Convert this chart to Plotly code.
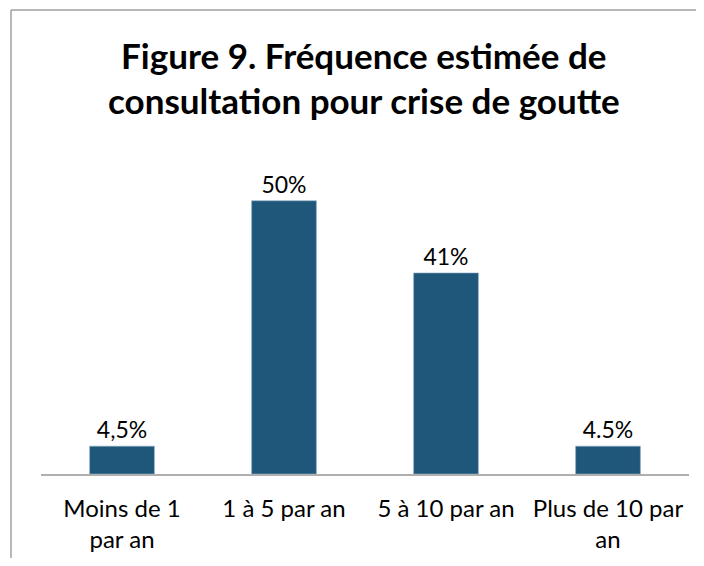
import plotly.graph_objects as go

categories = ["Moins de 1<br>par an", "1 à 5 par an", "5 à 10 par an", "Plus de 10 par<br>an"]
values = [5.1, 50, 36.8, 5.1]
labels = ["4,5%", "50%", "41%", "4.5%"]
title_lines = ["Figure 9. Fréquence estimée de", "consultation pour crise de goutte"]

bar_color = "#1F577B"
font_family = "Lato, 'Open Sans', sans-serif"

# page has an 8px body margin; figure coordinates are page coordinates - 8
W, H = 688, 550
L, R, T, B = 33, 7, 142, 84
PW, PH = W - L - R, H - T - B

fig = go.Figure()
fig.add_trace(go.Bar(
    x=categories, y=values, text=labels, textposition="outside",
    textfont=dict(size=23, color="#000000", family=font_family),
    marker=dict(color=bar_color, line=dict(color="#8FB0C8", width=0.6)),
    width=0.40, cliponaxis=False,
))

fig.update_layout(
    width=W, height=H,
    margin=dict(l=L, r=R, t=T, b=B, autoexpand=False),
    paper_bgcolor="white", plot_bgcolor="white",
    showlegend=False,
    font=dict(family=font_family, size=24, color="#000000"),
    xaxis=dict(showline=True, linecolor="#AFAFAF", linewidth=1.5, ticks="",
               tickfont=dict(size=24), showgrid=False, automargin=False,
               ticklabelstandoff=12),
    yaxis=dict(visible=False, range=[0, 59.3], showgrid=False, zeroline=False),
)

for line, ypix in zip(title_lines, [47, 92]):
    fig.add_annotation(
        text=f"<b>{line}</b>", x=(356 - L) / PW, xref="paper", xanchor="center",
        y=(H - B - ypix) / PH, yref="paper", yanchor="middle",
        showarrow=False, font=dict(size=35, family=font_family, color="#000000"),
    )

border = dict(color="#A0A0A0", width=1.5)
x_left = (3 - L) / PW
y_top = (H - B - 2) / PH
fig.add_shape(type="line", xref="paper", yref="paper",
              x0=x_left, x1=x_left, y0=y_top, y1=-B / PH, line=border)
fig.add_shape(type="line", xref="paper", yref="paper",
              x0=x_left, x1=1 + R / PW, y0=y_top, y1=y_top, line=border)

fig.write_html("out.html")
